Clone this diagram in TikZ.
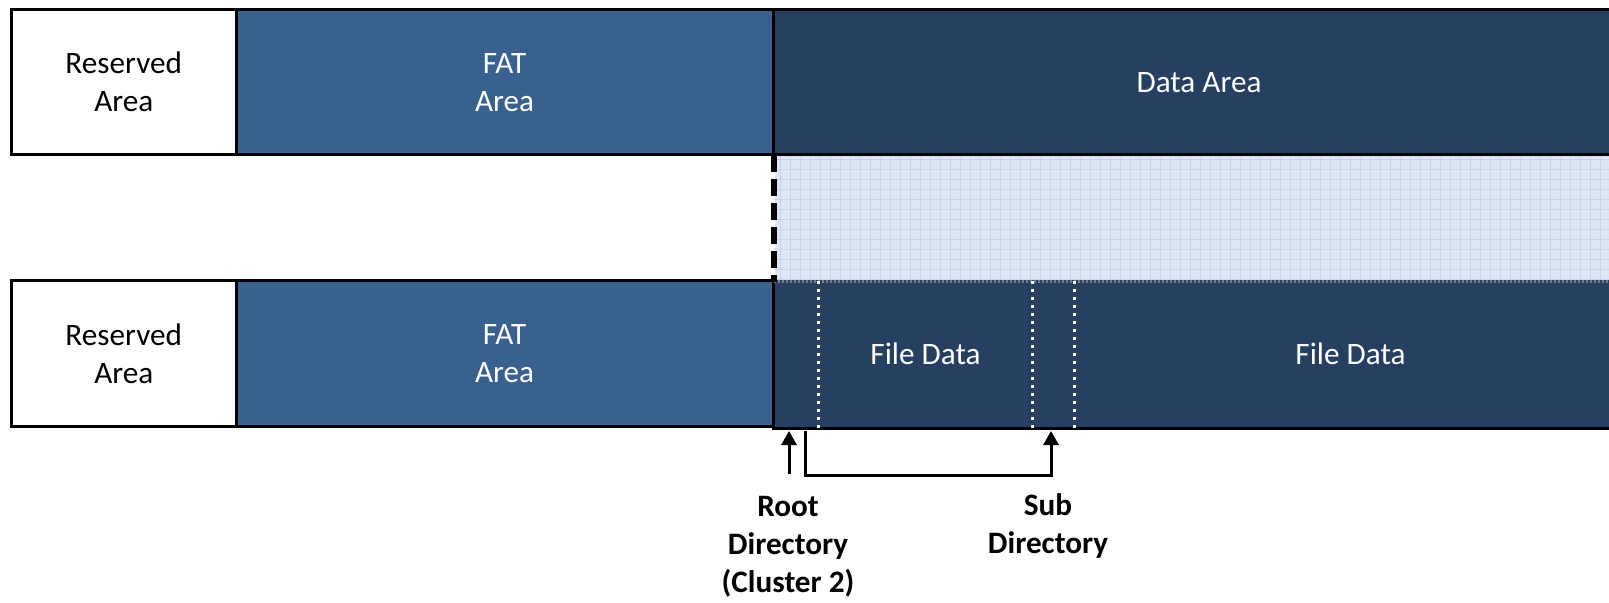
\documentclass[tikz,border=0pt]{standalone}
\usepackage{fontspec}
\setmainfont{Carlito}
\usetikzlibrary{positioning}
\usetikzlibrary{arrows.meta}
\definecolor{fatblue}{RGB}{56,97,143}
\definecolor{datablue}{RGB}{38,64,98}
\definecolor{bandblue}{RGB}{221,231,243}
\definecolor{bandgrid}{RGB}{196,213,236}
\definecolor{banddot}{RGB}{118,126,138}
\def\px{0.5pt}
\newcommand{\areabox}[7]{\node[area,#6,minimum width={(#2-#1)*\px},minimum height={(#4-#3)*\px}] (#5) at ({(#1+#2)/2},{(#3+#4)/2}) {#7};}
\tikzset{
  area/.style={rectangle,draw=black,line width=1.5pt,inner sep=0pt,align=center,font=\fontsize{15.6}{19}\selectfont},
  plainfill/.style={fill=white,text=black},
  fatfill/.style={fill=fatblue,text=white},
  datafill/.style={fill=datablue,text=white},
  bandfill/.style={fill=bandblue,draw=none},
  section/.style={draw=none,text=white},
  border/.style={draw=black,line width=1.5pt},
  cutline/.style={draw=black,line width=3pt,dash pattern=on 8.75pt off 3.25pt},
  clusterline/.style={draw=white,line width=1.3pt,dash pattern=on 1.5pt off 2.5pt},
  pointer/.style={draw=black,line width=1.5pt,-{Triangle[length=7pt,width=7.5pt]}},
  dirlabel/.style={align=center,font=\fontsize{15.6}{19}\selectfont\bfseries}
}
\begin{document}
\begin{tikzpicture}[x=0.5pt,y=-0.5pt]
\useasboundingbox (0,0) rectangle (1609,603);
\clip (0,0) rectangle (1609,603);
\areabox{775}{1625}{156.5}{280.5}{band}{bandfill}{}
\draw[bandgrid,line width=0.5pt] (band.south west) grid[step=5pt] (band.north east);
\areabox{11.5}{236}{9.5}{155}{resA}{plainfill}{Reserved\\Area}
\areabox{236}{773}{9.5}{155}{fatA}{fatfill}{FAT\\Area}
\areabox{773}{1625}{9.5}{155}{dataA}{datafill}{Data Area}

\areabox{773}{1625}{280.5}{427}{dataB}{datafill,draw=none}{}
\areabox{11.5}{236}{280.5}{427}{resB}{plainfill}{Reserved\\Area}
\areabox{236}{773}{280.5}{427}{fatB}{fatfill}{FAT\\Area}
\areabox{820}{1031}{280.5}{427}{fileA}{section}{File Data}
\areabox{1076}{1625}{280.5}{427}{fileB}{section}{File Data}

\draw[banddot,line width=1.5pt,dash pattern=on 1pt off 1pt] (band.south west) -- (band.south east);
\draw[cutline] (band.north west) -- (band.south west);
\draw[border] (dataB.south west) -- (dataB.south east);
\draw[clusterline] ([yshift=-1pt]fileA.north west) -- (fileA.south west);
\draw[clusterline] ([yshift=-1pt]fileA.north east) -- (fileA.south east);
\draw[clusterline] ([yshift=-1pt]fileB.north west) -- (fileB.south west);

\node[dirlabel] (root) at (788,547) {Root\\Directory\\(Cluster 2)};
\node[dirlabel] (sub) at (1048,526) {Sub\\Directory};
\coordinate (rootTail) at (789,474);
\coordinate (rootHead) at (789,431);
\coordinate (subTail) at (805,431);
\coordinate (subHead) at (1051,431);
\draw[pointer] (rootTail) -- (rootHead);
\draw[pointer] (subTail) -- ++(0,44) -| (subHead);
\end{tikzpicture}
\end{document}
